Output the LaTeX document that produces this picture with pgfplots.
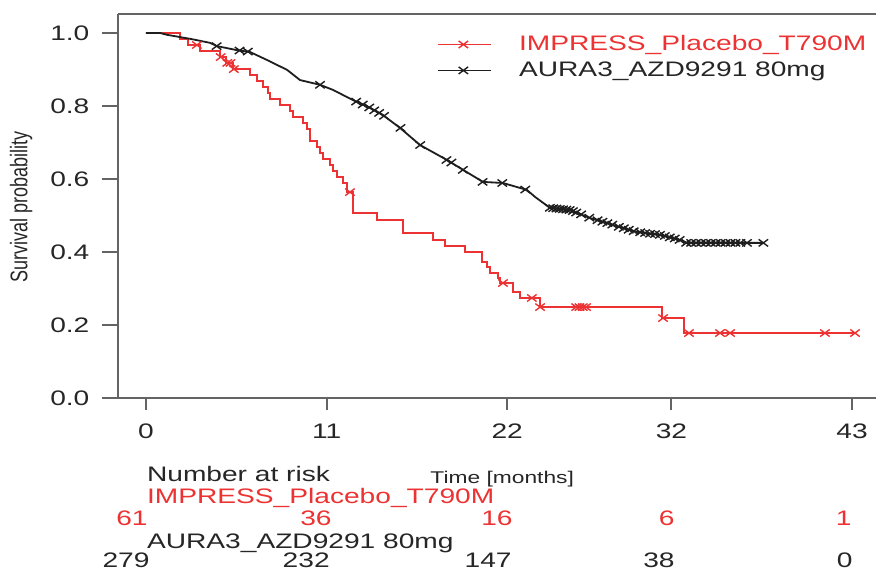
\documentclass[border=0pt]{standalone}
\usepackage{fontspec}
\setmainfont{Liberation Sans}[FakeStretch=1.34]
\newfontfamily\plainsans{Liberation Sans}
\usepackage{graphicx}
\usepackage{pgfplots}
\usepackage{pgfplotstable}
\pgfplotsset{compat=1.18}

\definecolor{kmred}{RGB}{236,50,50}
\definecolor{kmblack}{RGB}{30,30,30}
\definecolor{axgray}{RGB}{100,100,100}

% IMPRESS placebo T790M, KM steps
\pgfplotstableread{
t s
0     1.000
2.07  0.984
2.56  0.967
3.29  0.951
4.51  0.934
4.87  0.918
5.30  0.901
6.33  0.885
6.76  0.868
7.13  0.852
7.43  0.836
7.55  0.819
8.16  0.803
8.77  0.786
8.95  0.770
9.56  0.753
9.81  0.737
9.99  0.704
10.41 0.688
10.60 0.671
10.78 0.655
11.21 0.638
11.39 0.622
11.63 0.605
12.00 0.589
12.24 0.564
12.61 0.507
14.07 0.488
15.65 0.452
17.48 0.433
18.21 0.416
19.43 0.400
20.46 0.373
20.77 0.359
20.95 0.342
21.44 0.329
21.56 0.315
22.35 0.290
22.78 0.274
24.00 0.249
31.43 0.219
32.76 0.178
43.18 0.178
}\redkm

% AURA3 AZD9291 80mg
\pgfplotstableread{
t s
0     1.000
0.85  1.000
1.28  0.995
2.68  0.984
3.90  0.973
4.32  0.964
5.54  0.953
6.33  0.948
7.37  0.926
8.59  0.899
9.38  0.871
10.60 0.858
11.39 0.844
12.61 0.816
13.64 0.795
14.43 0.775
15.47 0.740
16.69 0.693
18.33 0.652
19.31 0.625
20.52 0.592
21.74 0.589
23.20 0.570
23.69 0.551
24.60 0.521
25.82 0.515
27.04 0.493
28.44 0.474
29.90 0.455
31.30 0.447
32.52 0.433
32.95 0.425
37.58 0.425
}\blackkm

\begin{document}
\begin{tikzpicture}
\begin{axis}[
  name=ax,
  scale only axis, width=379pt, height=192pt,
  xmin=-1.705, xmax=44.46, ymin=0, ymax=1.052,
  axis x line*=bottom, axis y line*=left,
  axis line style={axgray, line width=1pt},
  tick style={axgray, line width=1pt},
  tick align=outside,
  xtick={0,11,22,32,43}, xticklabels={0,11,22,32,43},
  ytick={0,0.2,0.4,0.6,0.8,1.0}, yticklabels={0.0,0.2,0.4,0.6,0.8,1.0},
  xtick style={/pgfplots/major tick length=6pt},
  ytick style={/pgfplots/major tick length=8pt},
  tick label style={font=\fontsize{10.5}{12}\selectfont, text=black!85},
  xticklabel style={yshift=-5pt},
  yticklabel style={xshift=-6.5pt},
  clip=false,
  legend image code/.code={\draw[mark repeat=2,mark phase=2,#1] plot coordinates {(0pt,0pt) (12.5pt,0pt) (26.5pt,0pt)};},
  legend style={draw=none, fill=none, at={(axis cs:17.74,0.9945)}, anchor=north west,
    inner sep=0pt, font=\fontsize{10.5}{12}\selectfont, row sep=4pt, column sep=13.5pt,
    nodes={inner sep=0pt}},
  legend cell align=left,
]
\addplot[const plot, kmred, line width=0.7pt, forget plot] table[x=t,y=s] {\redkm};
\addplot[kmblack, line width=0.9pt, forget plot] table[x=t,y=s] {\blackkm};

% censoring marks
\addplot[only marks, mark=x, kmred, mark size=2.5pt, mark options={xscale=1.34, line width=0.7pt}, forget plot] coordinates {
  (3.10,0.967)(4.55,0.934)(4.95,0.918)(5.15,0.918)(5.35,0.901)(12.42,0.564)
  (21.74,0.315)(23.50,0.274)(24.00,0.249)(26.2,0.249)(26.4,0.249)(26.6,0.249)(26.8,0.249)
  (31.49,0.219)(33.07,0.178)(34.96,0.178)(35.57,0.178)(41.35,0.178)(43.18,0.178)
};
\addplot[only marks, mark=x, kmblack, mark size=2.5pt, mark options={xscale=1.34, line width=0.7pt}, forget plot] coordinates {
  (4.3,0.964)(5.7,0.952)(6.2,0.949)(10.6,0.858)(12.8,0.812)(13.2,0.804)(13.6,0.796)
  (13.9,0.788)(14.2,0.781)(14.5,0.773)(15.5,0.740)(16.7,0.693)(18.3,0.652)(18.6,0.645)
  (19.3,0.625)(20.5,0.592)(21.7,0.589)(23.1,0.571)
  (24.6,0.521)(24.8,0.520)(25.0,0.519)(25.2,0.518)(25.4,0.517)(25.6,0.516)(25.8,0.515)
  (26.0,0.512)(26.2,0.508)(26.5,0.503)(27.0,0.494)(27.5,0.487)(27.8,0.483)(28.1,0.479)
  (28.4,0.475)(28.8,0.469)(29.1,0.465)(29.4,0.461)(29.7,0.457)(30.1,0.454)(30.4,0.452)
  (30.7,0.450)(31.0,0.449)(31.3,0.447)(31.6,0.444)(31.9,0.440)(32.2,0.437)(32.5,0.433)
  (32.9,0.425)(33.2,0.425)(33.5,0.425)(33.8,0.425)(34.1,0.425)(34.4,0.425)(34.7,0.425)
  (35.0,0.425)(35.3,0.425)(35.6,0.425)(35.9,0.425)(36.2,0.425)(36.6,0.425)(37.6,0.425)
};

\addlegendimage{kmred, line width=0.7pt, mark=x, mark size=2.5pt, mark options={xscale=1.34}}
\addlegendentry[text=kmred]{IMPRESS\_Placebo\_T790M}
\addlegendimage{kmblack, line width=0.7pt, mark=x, mark size=2.5pt, mark options={xscale=1.34}}
\addlegendentry[text=black!85]{AURA3\_AZD9291 80mg}

% top frame line
\draw[axgray, line width=1pt] (rel axis cs:0,1) -- (rel axis cs:1,1);

% y label
\node[rotate=90, inner sep=0pt, text=black!85] at (axis cs:-7.61,0.523)
  {\scalebox{1}[1.34]{\plainsans\fontsize{9}{10}\selectfont Survival probability}};

% number at risk table
\begin{scope}[every node/.style={inner sep=0pt, font=\fontsize{10.5}{12}\selectfont}]
\node[anchor=base west, text=black!85] at (axis cs:0.04,-0.230) {Number at risk};
\node[anchor=base west, text=black!85, font=\fontsize{8.5}{10}\selectfont] at (axis cs:17.3,-0.233) {Time [months]};
\node[anchor=base west, text=kmred] at (axis cs:0.04,-0.288) {IMPRESS\_Placebo\_T790M};
\node[anchor=base east, text=kmred] at (axis cs:0.12,-0.348) {61};
\node[anchor=base east, text=kmred] at (axis cs:11.33,-0.348) {36};
\node[anchor=base east, text=kmred] at (axis cs:22.35,-0.348) {16};
\node[anchor=base east, text=kmred] at (axis cs:32.22,-0.348) {6};
\node[anchor=base east, text=kmred] at (axis cs:43.0,-0.348) {1};
\node[anchor=base west, text=black!85] at (axis cs:0.04,-0.411) {AURA3\_AZD9291 80mg};
\node[anchor=base east, text=black!85] at (axis cs:0.24,-0.465) {279};
\node[anchor=base east, text=black!85] at (axis cs:11.21,-0.465) {232};
\node[anchor=base east, text=black!85] at (axis cs:22.29,-0.465) {147};
\node[anchor=base east, text=black!85] at (axis cs:32.22,-0.465) {38};
\node[anchor=base east, text=black!85] at (axis cs:43.06,-0.465) {0};
\end{scope}
\end{axis}
\pgfresetboundingbox
\path[use as bounding box] ([xshift=-59pt,yshift=-86.5pt]ax.south west) rectangle ([yshift=7pt]ax.north east);
\end{tikzpicture}
\end{document}
